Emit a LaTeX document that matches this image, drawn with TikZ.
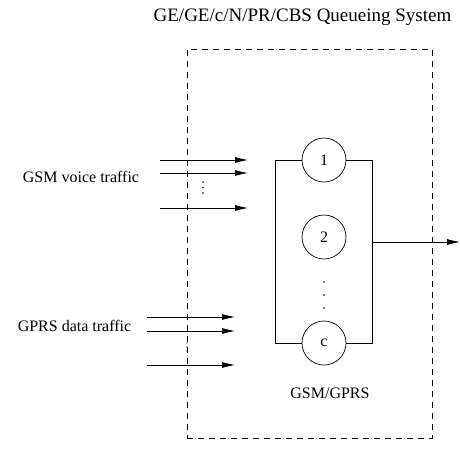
\documentclass[tikz,border=0pt]{standalone}
\usepackage{fontspec}
\setmainfont{Liberation Serif}
\usetikzlibrary{arrows.meta}
\usetikzlibrary{positioning}

\begin{document}
\begin{tikzpicture}[x=1pt,y=-1pt,>={Latex[length=13pt,width=6pt]},line width=0.7pt,
    font=\fontsize{16}{19}\selectfont]
 \tikzstyle{server}=[draw, circle, minimum size=44pt, inner sep=0pt]
 \tikzstyle{sysbox}=[draw, dashed, line width=0.55pt, dash pattern=on 6pt off 5pt, minimum width=245pt, minimum height=389pt, inner sep=0pt]
 \tikzstyle{lbl}=[inner sep=0pt]
 \useasboundingbox (0,0) rectangle (459,469);
 				 \node[sysbox]          (sys) at (309.5,243.5) {};
 				 \node[lbl, font=\fontsize{19}{22}\selectfont] (title) at (302.5,17) {GE/GE/c/N/PR/CBS Queueing System};
 				 \node[server]          (s1) at (324,160) {1};
 				 \node[server]          (s2) at (324,237) {2};
 				 \node[server]          (sc) at (324,343) {c};
 				 \node[lbl]             (pool) at (330,393) {GSM/GPRS};
 				 \node[lbl]             (voice) at (81,177) {GSM voice traffic};
 				 \node[lbl]             (data) at (74.5,326) {GPRS data traffic};
 				 \coordinate            (tl) at (275,160);
 				 \coordinate            (bl) at (275,343);
 				 \coordinate            (tr) at (372,160);
 				 \coordinate            (br) at (372,343);
 				 \coordinate            (outA) at (372,242);
 				 \coordinate            (outB) at (460,242);
				% frame round the servers
				\draw (s1.west) -- (tl) -- (bl) -- (sc.west);
				\draw (s1.east) -- (tr) -- (br) -- (sc.east);
				\draw[->] (outA) -- (outB);
				% arriving streams
				\foreach \y/\n in {160/1,173/2,208/3} {
				  \coordinate (v\n a) at (160,\y);
				  \coordinate (v\n b) at (248,\y);
				  \draw[->] (v\n a) -- (v\n b);
				}
				\foreach \y/\n in {317/1,331/2,365/3} {
				  \coordinate (d\n a) at (147,\y);
				  \coordinate (d\n b) at (235,\y);
				  \draw[->] (d\n a) -- (d\n b);
				}
				% dots
				\foreach \y in {282,295,308} \fill (324,\y) circle (0.9pt);
				\foreach \y in {182,187.5,193} \fill (203,\y) circle (0.8pt);
				\foreach \y in {343,347,351} \fill (187,\y) circle (0.6pt);
\end{tikzpicture}
\end{document}
